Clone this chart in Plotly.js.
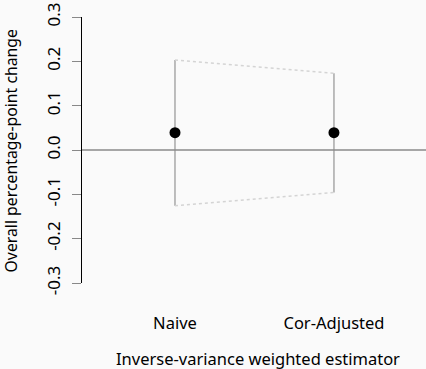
<!DOCTYPE html>
<html><head><meta charset="utf-8">
<script src="https://cdn.plot.ly/plotly-3.0.1.min.js"></script>
<style>html,body{margin:0;padding:0;background:#fafafa;}</style>
</head><body><div id="chart" style="width:426px;height:369px;"></div>
<script>
const categories = ["Naive", "Cor-Adjusted"];
const estimates = [0.039, 0.039];
const lower = [-0.126, -0.096];
const upper = [0.203, 0.173];
const yTicks = [-0.3, -0.2, -0.1, 0.0, 0.1, 0.2, 0.3];
const yTickText = ["-0.3", "-0.2", "-0.1", "0.0", "0.1", "0.2", "0.3"];
const xTitle = "Inverse-variance weighted estimator";
const yTitle = "Overall percentage-point change";

const xs = categories.map((c, i) => i + 1);
const F = "Noto Sans, Open Sans, sans-serif";
const traces = [];
xs.forEach((x, i) => {
  traces.push({x: [x, x], y: [lower[i], upper[i]], mode: "lines",
    line: {color: "#a8a8a8", width: 1.5}, hoverinfo: "skip", showlegend: false, cliponaxis: false});
});
traces.push({x: xs, y: upper, mode: "lines", line: {color: "#d4d4d4", width: 1.5, dash: "dot"}, showlegend: false});
traces.push({x: xs, y: lower, mode: "lines", line: {color: "#d4d4d4", width: 1.5, dash: "dot"}, showlegend: false});
traces.push({x: xs, y: estimates, mode: "markers", marker: {color: "#000", size: 11}, showlegend: false, cliponaxis: false});

const layout = {
  width: 426, height: 369,
  paper_bgcolor: "#fafafa", plot_bgcolor: "#fafafa",
  margin: {l: 82, r: 0, t: 17, b: 86},
  font: {family: F, size: 16.5, color: "#000"},
  showlegend: false,
  xaxis: {
    range: [0.415, 2.579], tickvals: xs, ticktext: categories,
    showline: false, showgrid: false, zeroline: false, ticks: "",
    ticklabelstandoff: 28,
    tickfont: {family: F, size: 16.5}
  },
  yaxis: {
    range: [-0.3, 0.3], tickvals: yTicks, ticktext: yTickText,
    tickangle: -90, showgrid: false, zeroline: false,
    showline: true, linecolor: "#000", linewidth: 1,
    ticks: "outside", ticklen: 9, tickcolor: "#888", tickwidth: 1,
    ticklabelstandoff: 5,
    tickfont: {family: F, size: 17}
  },
  shapes: [
    {type: "line", xref: "paper", yref: "y", x0: 0, x1: 1, y0: 0, y1: 0,
     line: {color: "#8a8a8a", width: 1.5}}
  ],
  annotations: [
    {text: yTitle, xref: "paper", yref: "paper",
     x: -0.205, y: 0.5, textangle: -90, showarrow: false,
     font: {family: F, size: 15.8}, xanchor: "center", yanchor: "middle"},
    {text: xTitle, xref: "paper", yref: "paper",
     x: 0.513, y: -0.283, showarrow: false,
     font: {family: F, size: 16.5}, xanchor: "center", yanchor: "middle"}
  ]
};
Plotly.newPlot("chart", traces, layout, {displayModeBar: false, staticPlot: true});
</script></body></html>
